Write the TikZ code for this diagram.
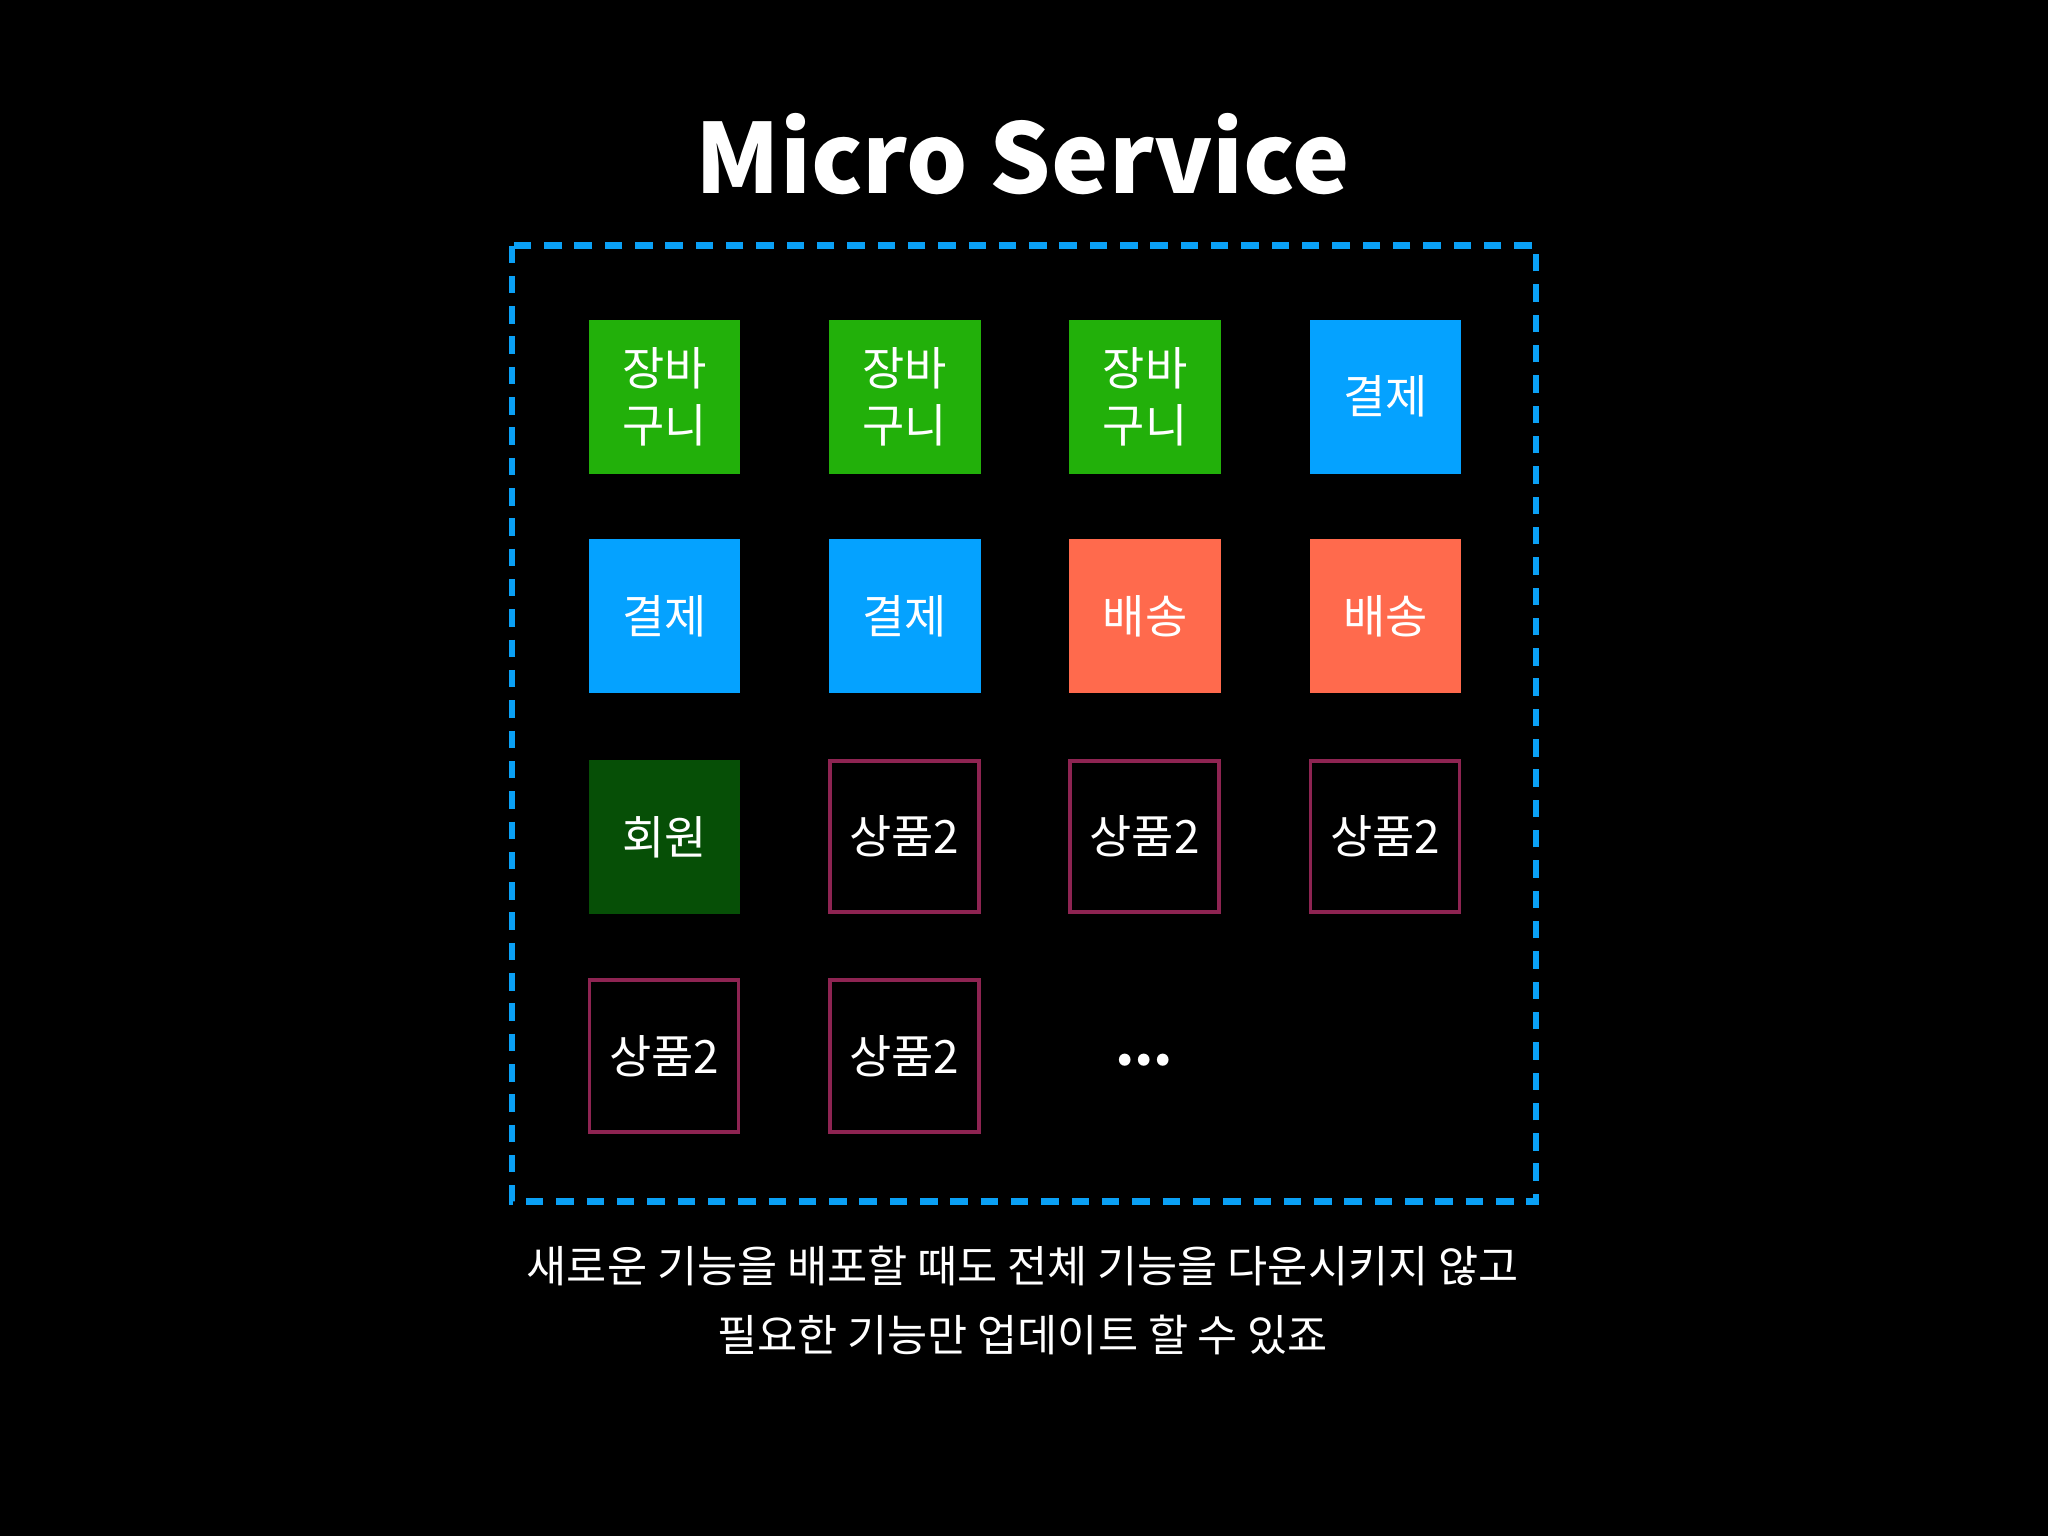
\documentclass[tikz,border=0pt]{standalone}
\usepackage{fontspec}
\setmainfont{Noto Sans CJK KR}
\newfontfamily\titlefont{Noto Sans CJK KR}
\definecolor{cgreen}{HTML}{22B00A}
\definecolor{cblue}{HTML}{05A2FF}
\definecolor{corange}{HTML}{FF6A4D}
\definecolor{cdark}{HTML}{064F06}
\definecolor{cmag}{HTML}{8E2452}
\definecolor{cdash}{HTML}{0AA0F5}
\begin{document}
\begin{tikzpicture}[x=0.01cm,y=-0.01cm,
  svc/.style={minimum width=1.16cm,minimum height=1.18cm,inner sep=0pt,text=white,font=\fontsize{10}{12.5}\selectfont,align=center,anchor=north west},
  fillsvc/.style={svc,fill=#1},
  outsvc/.style={svc,draw=cmag,line width=0.8pt,minimum width=1.14cm,minimum height=1.16cm}]
\fill[black] (0,0) rectangle (1568,1176);
\useasboundingbox (0,0) rectangle (1568,1176);
\node[text=white,font=\titlefont\bfseries\fontsize{21}{24}\selectfont] (title) at (783,118) {Micro Service};
\draw[cdash,line width=1.4pt,dash pattern=on 3.8pt off 2.8pt] (392,188) rectangle (1176,920);
\node[fillsvc=cgreen] (a1) at (450,244) {장바\\구니};
\node[fillsvc=cgreen] (a2) at (634,244) {장바\\구니};
\node[fillsvc=cgreen] (a3) at (818,244) {장바\\구니};
\node[fillsvc=cblue] (a4) at (1002,244) {결제};
\node[fillsvc=cblue] (b1) at (450,412) {결제};
\node[fillsvc=cblue] (b2) at (634,412) {결제};
\node[fillsvc=corange] (b3) at (818,412) {배송};
\node[fillsvc=corange] (b4) at (1002,412) {배송};
\node[fillsvc=cdark] (c1) at (450,581) {회원};
\node[outsvc] (c2) at (634,581) {상품2};
\node[outsvc] (c3) at (818,581) {상품2};
\node[outsvc] (c4) at (1002,581) {상품2};
\node[outsvc] (d1) at (450,749) {상품2};
\node[outsvc] (d2) at (634,749) {상품2};
\node[text=white,font=\bfseries\fontsize{12}{14}\selectfont] (dots) at (876,812) {...};
\node[text=white,font=\fontsize{9.5}{15}\selectfont,align=center] (cap) at (783,996) {새로운 기능을 배포할 때도 전체 기능을 다운시키지 않고\\필요한 기능만 업데이트 할 수 있죠};
\end{tikzpicture}
\end{document}
